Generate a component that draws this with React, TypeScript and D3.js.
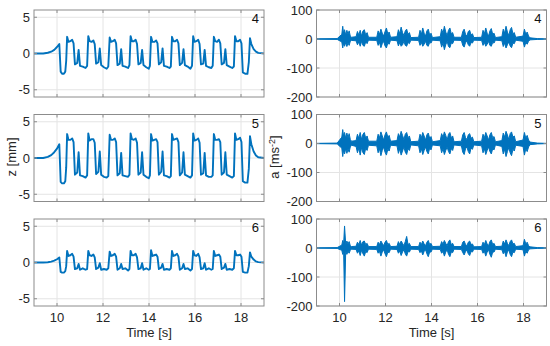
import React from 'react';
import * as d3 from 'd3';

// tick values and panel labels
const timeTicks = [10, 12, 14, 16, 18];
const zTicks = [-5, 0, 5];
const aTicks = [-200, -100, 0, 100];
const sensors = ['4', '5', '6'];

// displacement z [mm], shared time base
const zTime = [
  9.0, 9.4, 9.6, 9.75, 9.88, 10.0, 10.1, 10.16, 10.22, 10.30, 10.36, 10.40,
  10.44, 10.50, 10.58, 10.66, 10.72, 10.78, 10.88, 10.94, 11.00, 11.12, 11.24, 11.31,
  11.36, 11.42, 11.50, 11.58, 11.64, 11.70, 11.80, 11.86, 11.92, 12.04, 12.16, 12.23,
  12.29, 12.35, 12.43, 12.51, 12.57, 12.63, 12.73, 12.79, 12.85, 12.97, 13.09, 13.15,
  13.20, 13.26, 13.34, 13.42, 13.48, 13.54, 13.64, 13.70, 13.76, 13.88, 13.99, 14.04,
  14.09, 14.15, 14.23, 14.31, 14.37, 14.43, 14.53, 14.59, 14.65, 14.77, 14.89, 14.95,
  15.00, 15.06, 15.14, 15.22, 15.28, 15.34, 15.44, 15.50, 15.56, 15.68, 15.80, 15.87,
  15.92, 15.98, 16.06, 16.14, 16.20, 16.26, 16.36, 16.42, 16.48, 16.60, 16.71, 16.77,
  16.82, 16.88, 16.96, 17.04, 17.10, 17.16, 17.26, 17.32, 17.38, 17.50, 17.62, 17.69,
  17.74, 17.80, 17.88, 17.96, 18.02, 18.08, 18.18, 18.28, 18.34, 18.39, 18.45, 18.55, 18.65, 18.75, 19.0,
];
const z4 = [
  0, 0, 0.1, 0.25, 0.5, 0.9, 1.3, -2.5, -2.8, -2.8, -2.5, -1.0,
  2.3, 1.6, 1.7, 1.9, 1.4, -1.5, -1.3, 0.5, -1.7, -1.8, -2.0, -1.7,
  2.4, 1.7, 1.6, 1.8, 1.3, -1.4, -1.2, 0.7, -1.6, -1.9, -2.1, -1.8,
  2.2, 1.6, 1.7, 1.9, 1.4, -1.6, -1.4, 0.6, -1.7, -1.8, -2.0, -1.6,
  2.4, 1.7, 1.7, 1.9, 1.3, -1.5, -1.3, 0.5, -1.6, -1.9, -2.1, -1.7,
  2.3, 1.6, 1.6, 1.8, 1.4, -1.5, -1.2, 0.7, -1.7, -1.8, -2.0, -1.8,
  2.3, 1.7, 1.7, 1.9, 1.4, -1.6, -1.3, 0.6, -1.6, -1.8, -2.1, -1.7,
  2.4, 1.6, 1.7, 1.9, 1.3, -1.5, -1.4, 0.5, -1.7, -1.9, -2.0, -1.7,
  2.3, 1.7, 1.6, 1.9, 1.4, -1.5, -1.3, 0.6, -1.6, -1.8, -2.0, -1.8,
  2.4, 1.7, 1.7, 1.9, 1.4, -2.6, -2.8, -2.8, -1.2, 2.1, 1.3, 0.6, 0.25, 0.08, 0,
];
const z5 = [
  0, 0, 0.15, 0.4, 0.8, 1.3, 1.9, -3.3, -3.5, -3.5, -3.2, -1.3,
  3.3, 2.5, 2.5, 2.7, 2.2, -2.3, -2.0, 0.8, -2.4, -2.5, -2.7, -2.4,
  3.4, 2.4, 2.6, 2.6, 2.1, -2.2, -1.9, 0.9, -2.3, -2.6, -2.7, -2.5,
  3.2, 2.5, 2.5, 2.7, 2.2, -2.4, -2.1, 0.7, -2.4, -2.5, -2.6, -2.3,
  3.4, 2.6, 2.5, 2.7, 2.1, -2.3, -2.0, 0.8, -2.3, -2.6, -2.8, -2.4,
  3.3, 2.4, 2.5, 2.6, 2.2, -2.3, -1.9, 0.9, -2.4, -2.5, -2.7, -2.5,
  3.3, 2.5, 2.6, 2.7, 2.2, -2.4, -2.0, 0.8, -2.3, -2.5, -2.7, -2.4,
  3.4, 2.4, 2.5, 2.7, 2.1, -2.3, -2.1, 0.7, -2.4, -2.6, -2.6, -2.4,
  3.3, 2.5, 2.5, 2.6, 2.2, -2.3, -2.0, 0.8, -2.3, -2.5, -2.7, -2.5,
  3.4, 2.5, 2.6, 2.8, 2.2, -3.2, -3.4, -3.4, -1.5, 3.0, 1.9, 0.9, 0.35, 0.1, 0,
];
const z6 = [
  0, 0, 0.04, 0.12, 0.25, 0.45, 0.7, -1.3, -1.4, -1.4, -1.2, -0.5,
  1.6, 0.9, 1.0, 1.2, 0.8, -0.9, -0.8, -0.2, -1.0, -0.8, -1.0, -0.9,
  1.6, 1.0, 0.9, 1.1, 0.7, -0.9, -0.7, -0.1, -1.0, -0.9, -1.0, -0.8,
  1.5, 0.9, 1.0, 1.2, 0.8, -1.0, -0.8, -0.2, -0.9, -0.8, -1.1, -0.9,
  1.6, 1.0, 1.0, 1.2, 0.7, -0.9, -0.8, -0.1, -1.0, -0.8, -1.0, -0.9,
  1.7, 0.9, 1.0, 1.1, 0.8, -0.9, -0.7, -0.2, -1.0, -0.9, -1.0, -0.8,
  1.6, 0.9, 1.0, 1.2, 0.8, -1.0, -0.8, -0.2, -0.9, -0.8, -1.1, -0.9,
  1.6, 1.0, 0.9, 1.2, 0.7, -0.9, -0.8, -0.1, -1.0, -0.8, -1.0, -0.9,
  1.6, 0.9, 1.0, 1.1, 0.8, -0.9, -0.7, -0.2, -1.0, -0.9, -1.0, -0.8,
  1.6, 1.0, 1.0, 1.1, 0.8, -1.3, -1.4, -1.4, -0.5, 1.4, 0.8, 0.4, 0.15, 0.05, 0,
];

// acceleration a [ms^-2]: upper / lower envelope of the signal, shared time base
const accTime = [
  9.0, 9.9,
  10.10, 10.14, 10.18, 10.22, 10.27, 10.32, 10.37, 10.42, 10.47, 10.52,
  10.72, 10.78, 10.84, 10.90, 10.96, 11.02, 11.08, 11.14, 11.20, 11.26,
  11.62, 11.68, 11.74, 11.80, 11.86, 11.92, 11.98, 12.04, 12.10, 12.16, 12.22,
  12.50, 12.56, 12.62, 12.68, 12.74, 12.80, 12.86, 12.92, 12.98, 13.04, 13.10,
  13.44, 13.50, 13.56, 13.62, 13.68, 13.74, 13.80, 13.86, 13.92, 13.98, 14.04,
  14.38, 14.44, 14.50, 14.56, 14.62, 14.68, 14.74, 14.80, 14.86, 14.92, 14.98,
  15.30, 15.36, 15.42, 15.48, 15.54, 15.60, 15.66, 15.72, 15.78, 15.84,
  16.18, 16.24, 16.30, 16.36, 16.42, 16.48, 16.54, 16.60, 16.66, 16.72, 16.78,
  17.06, 17.12, 17.18, 17.24, 17.30, 17.36, 17.42, 17.48, 17.54, 17.60, 17.66,
  17.98, 18.04, 18.10, 18.16, 18.22, 18.28,
  18.6, 19.0,
];
const a4Hi = [
  0.5, 1.5,
  16, 44, 18, 32, 14, 30, 16, 28, 10, 6,
  8, 26, 14, 30, 10, 28, 32, 14, 22, 6,
  6, 28, 16, 34, 20, 10, 26, 38, 18, 24, 6,
  8, 32, 18, 41, 22, 12, 28, 34, 16, 22, 5,
  6, 30, 16, 38, 20, 10, 28, 34, 14, 20, 5,
  8, 34, 20, 44, 24, 12, 30, 38, 18, 22, 6,
  6, 26, 34, 16, 10, 26, 30, 14, 18, 5,
  6, 30, 18, 38, 20, 10, 28, 36, 16, 20, 5,
  8, 34, 20, 44, 24, 12, 32, 40, 18, 22, 6,
  10, 34, 16, 24, 10, 4,
  1.5, 0.5,
];
const a4Lo = [
  -0.5, -1.5,
  -10, -31, -14, -25, -12, -26, -14, -22, -8, -5,
  -6, -20, -10, -25, -8, -22, -25, -10, -16, -4,
  -5, -22, -12, -30, -16, -8, -24, -31, -14, -18, -4,
  -6, -24, -12, -25, -20, -8, -22, -25, -12, -16, -4,
  -5, -22, -12, -25, -18, -8, -22, -25, -12, -14, -4,
  -6, -28, -14, -37, -20, -8, -26, -30, -14, -16, -4,
  -5, -22, -28, -12, -8, -20, -25, -12, -14, -4,
  -5, -22, -12, -25, -18, -8, -22, -25, -12, -14, -4,
  -6, -26, -14, -31, -20, -10, -24, -30, -14, -16, -4,
  -8, -28, -12, -18, -8, -3,
  -1.5, -0.5,
];
const a5Hi = [
  0.5, 1.5,
  22, 48, 24, 38, 18, 36, 20, 34, 14, 8,
  10, 32, 18, 38, 14, 32, 38, 18, 26, 8,
  8, 32, 20, 40, 26, 12, 30, 40, 22, 28, 8,
  10, 34, 22, 42, 28, 14, 32, 38, 20, 26, 6,
  8, 32, 20, 38, 26, 12, 30, 36, 18, 24, 6,
  10, 34, 22, 40, 28, 12, 32, 38, 20, 26, 6,
  8, 30, 38, 20, 14, 30, 34, 18, 22, 6,
  8, 32, 20, 38, 26, 12, 30, 38, 20, 24, 6,
  10, 36, 22, 42, 30, 14, 34, 40, 22, 26, 6,
  12, 38, 18, 28, 12, 5,
  1.5, 0.5,
];
const a5Lo = [
  -0.5, -1.5,
  -16, -45, -22, -36, -18, -34, -20, -30, -12, -6,
  -10, -32, -16, -40, -14, -32, -38, -16, -24, -6,
  -8, -32, -18, -42, -24, -12, -30, -40, -20, -26, -6,
  -8, -34, -18, -40, -26, -12, -30, -38, -18, -24, -5,
  -8, -32, -18, -38, -24, -12, -28, -36, -16, -22, -5,
  -8, -32, -18, -38, -24, -12, -28, -36, -18, -24, -5,
  -8, -30, -38, -18, -12, -28, -36, -16, -20, -5,
  -8, -32, -18, -38, -24, -12, -28, -36, -18, -22, -5,
  -10, -36, -20, -45, -28, -14, -32, -42, -20, -26, -6,
  -10, -40, -18, -28, -12, -4,
  -1.5, -0.5,
];
const a6Hi = [
  0.5, 1.5,
  10, 26, 14, 76, 12, 24, 14, 22, 8, 5,
  6, 20, 12, 26, 10, 22, 24, 12, 16, 5,
  5, 20, 12, 24, 16, 8, 20, 26, 12, 16, 5,
  6, 22, 12, 24, 16, 8, 22, 40, 12, 16, 5,
  5, 20, 12, 24, 14, 8, 20, 26, 12, 16, 5,
  6, 22, 14, 26, 16, 8, 22, 28, 12, 16, 5,
  5, 20, 24, 12, 8, 20, 24, 12, 14, 4,
  5, 20, 12, 26, 14, 8, 22, 28, 12, 16, 5,
  6, 24, 14, 28, 16, 8, 22, 28, 14, 16, 5,
  8, 30, 14, 20, 8, 4,
  1.5, 0.5,
];
const a6Lo = [
  -0.5, -1.5,
  -8, -22, -12, -185, -10, -22, -12, -18, -8, -4,
  -5, -18, -10, -26, -8, -20, -28, -12, -16, -4,
  -5, -18, -12, -28, -14, -6, -20, -30, -14, -16, -4,
  -5, -18, -10, -26, -14, -6, -20, -28, -12, -14, -4,
  -5, -16, -10, -24, -12, -6, -20, -30, -14, -14, -4,
  -5, -18, -12, -28, -14, -6, -22, -30, -14, -16, -4,
  -5, -16, -24, -12, -8, -20, -26, -12, -14, -4,
  -5, -18, -12, -28, -14, -6, -22, -32, -14, -14, -4,
  -6, -20, -12, -30, -14, -6, -22, -30, -14, -16, -4,
  -6, -28, -12, -18, -6, -3,
  -1.5, -0.5,
];

const zSeries = [z4, z5, z6];
const accHi = [a4Hi, a5Hi, a6Hi];
const accLo = [a4Lo, a5Lo, a6Lo];

const BLUE = '#0072bd';
const FONT = '"Liberation Sans", Arial, sans-serif';
const TXT = '#262626';
const rowTops = [10, 114.5, 219];
const rowH = 87;

function Grid({ xs, ys, yTicks }: any) {
  const [x0, x1] = xs.range();
  const [yb, yt] = ys.range();
  return (
    <g>
      {timeTicks.map(t => (
        <line key={'gx' + t} x1={xs(t)} x2={xs(t)} y1={yt} y2={yb} stroke="#e4e4e4" />
      ))}
      {yTicks.map((v: number) => (
        <line key={'gy' + v} x1={x0} x2={x1} y1={ys(v)} y2={ys(v)} stroke="#e4e4e4" />
      ))}
    </g>
  );
}

function Axes({ xs, ys, yTicks, showX, tag }: any) {
  const [x0, x1] = xs.range();
  const [yb, yt] = ys.range();
  return (
    <g fontFamily={FONT} fill={TXT}>
      <rect x={x0} y={yt} width={x1 - x0} height={yb - yt} fill="none" stroke="#8c8c8c" />
      {timeTicks.map(t => (
        <g key={'tx' + t}>
          <line x1={xs(t)} x2={xs(t)} y1={yb} y2={yb - 3} stroke="#8c8c8c" />
          <line x1={xs(t)} x2={xs(t)} y1={yt} y2={yt + 3} stroke="#8c8c8c" />
          {showX && (
            <text x={xs(t)} y={yb + 16} fontSize={13} textAnchor="middle">{t}</text>
          )}
        </g>
      ))}
      {yTicks.map((v: number) => (
        <g key={'ty' + v}>
          <line x1={x0} x2={x0 + 3} y1={ys(v)} y2={ys(v)} stroke="#8c8c8c" />
          <line x1={x1} x2={x1 - 3} y1={ys(v)} y2={ys(v)} stroke="#8c8c8c" />
          <text x={x0 - 4} y={ys(v) + 4.5} fontSize={13} textAnchor="end">{v}</text>
        </g>
      ))}
      <text x={x1 - 5} y={yt + 13} fontSize={13} textAnchor="end" fill="#111">{tag}</text>
    </g>
  );
}

export default function App() {
  const xLeft = d3.scaleLinear().domain([9, 19]).range([34, 264]);
  const xRight = d3.scaleLinear().domain([9, 19]).range([316.5, 546.5]);

  return (
    <svg width={550} height={346} style={{ position: 'absolute', left: 0, top: 0, background: '#fff' }}>
      <rect width={550} height={346} fill="#fff" />
      {sensors.map((s, i) => {
        const top = rowTops[i];
        const yz = d3.scaleLinear().domain([-6, 6]).range([top + rowH, top]);
        const ya = d3.scaleLinear().domain([-200, 100]).range([top + rowH, top]);
        const zLine = d3.line<number>()
          .x((_, k) => xLeft(zTime[k]))
          .y(d => yz(d));
        const aArea = d3.area<number>()
          .x((_, k) => xRight(accTime[k]))
          .y0((_, k) => ya(accLo[i][k]))
          .y1(d => ya(d));
        const showX = i === sensors.length - 1;
        return (
          <g key={s}>
            <Grid xs={xLeft} ys={yz} yTicks={zTicks} />
            <Grid xs={xRight} ys={ya} yTicks={aTicks} />
            <path d={zLine(zSeries[i]) || ''} fill="none" stroke={BLUE} strokeWidth={1.9} strokeLinejoin="round" />
            <path d={aArea(accHi[i]) || ''} fill={BLUE} stroke={BLUE} strokeWidth={1} strokeLinejoin="miter" />
            <Axes xs={xLeft} ys={yz} yTicks={zTicks} showX={showX} tag={s} />
            <Axes xs={xRight} ys={ya} yTicks={aTicks} showX={showX} tag={s} />
          </g>
        );
      })}
      <g fontFamily={FONT} fill={TXT} fontSize={13}>
        <text transform="translate(16,157) rotate(-90)" textAnchor="middle">z [mm]</text>
        <text transform="translate(279,157) rotate(-90)" textAnchor="middle">
          a [ms<tspan dy={-4} fontSize={9}>-2</tspan><tspan dy={4}>]</tspan>
        </text>
        <text x={149} y={337} textAnchor="middle">Time [s]</text>
        <text x={431.5} y={337} textAnchor="middle">Time [s]</text>
      </g>
    </svg>
  );
}
